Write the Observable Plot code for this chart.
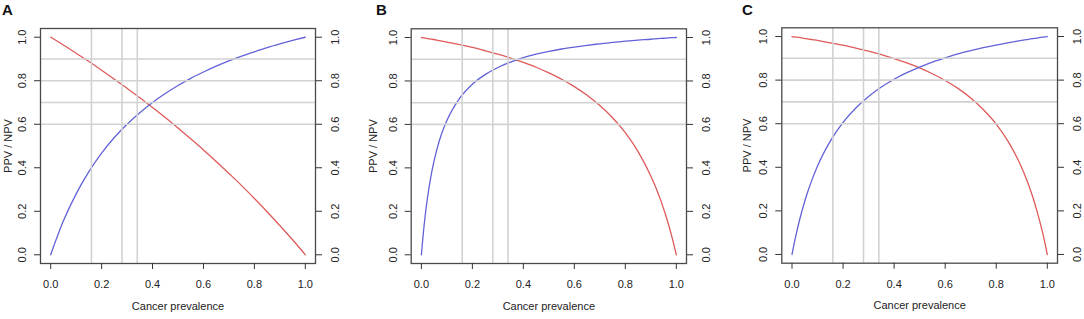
<!DOCTYPE html>
<html>
<head>
<meta charset="utf-8">
<script src="https://cdn.jsdelivr.net/npm/d3@7"></script>
<script src="https://cdn.jsdelivr.net/npm/@observablehq/plot@0.6"></script>
<style>
  html, body { margin: 0; padding: 0; background: #fff; }
  #wrap { position: relative; width: 1084px; height: 319px; overflow: hidden; background: #fff; }
  .panel { position: absolute; top: 0; }
  .letter { position: absolute; top: 1px; font: bold 15px "Liberation Sans", Arial, sans-serif; color: #111; }
</style>
</head>
<body>
<div id="wrap"></div>
<script>
// ---- Data ----
const panelLabels = ["A", "B", "C"];
const yTicks = [0, 0.2, 0.4, 0.6, 0.8, 1.0];
const xTicks = [0, 0.2, 0.4, 0.6, 0.8, 1.0];
const vLines = [0.16, 0.28, 0.34];
const hLines = [0.6, 0.7, 0.8, 0.9];

const prevA = [0, 0.05, 0.1, 0.15, 0.2, 0.25, 0.3, 0.35, 0.4, 0.45, 0.5, 0.55, 0.6, 0.65, 0.7, 0.75, 0.8, 0.85, 0.9, 0.95, 1];
const ppvA = [0, 0.156, 0.280, 0.382, 0.467, 0.539, 0.600, 0.653, 0.700, 0.741, 0.778, 0.811, 0.840, 0.867, 0.891, 0.913, 0.933, 0.952, 0.969, 0.985, 1];
const npvA = [1, 0.964, 0.926, 0.888, 0.848, 0.807, 0.765, 0.722, 0.677, 0.631, 0.583, 0.533, 0.482, 0.429, 0.374, 0.318, 0.259, 0.198, 0.134, 0.069, 0];

const prevBC = [0, 0.01, 0.02, 0.04, 0.06, 0.08, 0.1, 0.15, 0.2, 0.25, 0.3, 0.35, 0.4, 0.45, 0.5, 0.55, 0.6, 0.65, 0.7, 0.75, 0.8, 0.85, 0.9, 0.92, 0.94, 0.96, 0.98, 0.99, 1];
const ppvB = [0, 0.128, 0.229, 0.378, 0.482, 0.559, 0.618, 0.720, 0.785, 0.829, 0.862, 0.887, 0.907, 0.923, 0.936, 0.947, 0.956, 0.964, 0.971, 0.978, 0.983, 0.988, 0.992, 0.994, 0.996, 0.997, 0.999, 0.9993, 1];
const npvB = [1, 0.998, 0.996, 0.992, 0.988, 0.983, 0.979, 0.967, 0.954, 0.939, 0.923, 0.905, 0.885, 0.863, 0.837, 0.808, 0.774, 0.734, 0.687, 0.631, 0.562, 0.475, 0.363, 0.309, 0.247, 0.176, 0.095, 0.049, 0];
const ppvC = [0, 0.059, 0.112, 0.204, 0.282, 0.348, 0.406, 0.520, 0.606, 0.672, 0.725, 0.768, 0.804, 0.834, 0.860, 0.883, 0.902, 0.920, 0.935, 0.949, 0.961, 0.972, 0.982, 0.986, 0.990, 0.993, 0.997, 0.998, 1];
const npvC = [1, 0.998, 0.997, 0.993, 0.989, 0.986, 0.982, 0.971, 0.960, 0.947, 0.933, 0.917, 0.899, 0.879, 0.856, 0.829, 0.798, 0.762, 0.718, 0.664, 0.598, 0.512, 0.398, 0.341, 0.275, 0.198, 0.108, 0.057, 0];

const seriesX = [prevA, prevBC, prevBC];
const seriesPPV = [ppvA, ppvB, ppvC];
const seriesNPV = [npvA, npvB, npvC];

// ---- Layout ----
const layout = [
  { left: 0,   width: 361, ml: 40,   mr: 46, mt: 28,   mb: 56,   yTitle: 32,   letterX: 2 },
  { left: 361, width: 361, ml: 49.7, mr: 36, mt: 28.3, mb: 56,   yTitle: 37.4, letterX: 376 },
  { left: 722, width: 362, ml: 59.3, mr: 27, mt: 27.3, mb: 56.3, yTitle: 34.3, letterX: 742 }
];

const RED = "#de5a5a";
const BLUE = "#6262d8";
const GRID = "#d2d2d2";
const FONT = "'Liberation Sans', Arial, Helvetica, sans-serif";
const fmt = d => d.toFixed(1);

const wrap = document.getElementById("wrap");

layout.forEach((L, i) => {
  const xs = seriesX[i];
  const ppv = xs.map((p, j) => ({ p, v: seriesPPV[i][j] }));
  const npv = xs.map((p, j) => ({ p, v: seriesNPV[i][j] }));

  const chart = Plot.plot({
    width: L.width,
    height: 319,
    marginLeft: L.ml,
    marginRight: L.mr,
    marginTop: L.mt,
    marginBottom: L.mb,
    style: { fontFamily: FONT, fontSize: "11px", color: "#333", background: "transparent", overflow: "visible" },
    x: { domain: [-0.04, 1.04], label: null },
    y: { domain: [-0.04, 1.04], label: null },
    marks: [
      Plot.line(npv, { x: "p", y: "v", stroke: RED, strokeWidth: 1.3, curve: "monotone-x" }),
      Plot.line(ppv, { x: "p", y: "v", stroke: BLUE, strokeWidth: 1.3, curve: "monotone-x" }),
      Plot.ruleX(vLines, { x: d => d, stroke: GRID, strokeWidth: 1.6 }),
      Plot.ruleY(hLines, { y: d => d, stroke: GRID, strokeWidth: 1.6 }),
      Plot.frame({ stroke: "#4a4a4a", strokeWidth: 1.3 }),
      Plot.axisX({ anchor: "bottom", ticks: xTicks, tickSize: 6, tickPadding: 11, tickFormat: fmt, fontSize: 11, fill: "#222", label: null }),
      Plot.axisY({ anchor: "left", ticks: yTicks, tickSize: 6, tickFormat: () => "", label: null }),
      Plot.axisY({ anchor: "right", ticks: yTicks, tickSize: 6, tickFormat: () => "", label: null }),
      Plot.text(yTicks, { y: d => d, text: fmt, frameAnchor: "left", dx: -18, rotate: -90, textAnchor: "middle", fontSize: 11, fill: "#222" }),
      Plot.text(yTicks, { y: d => d, text: fmt, frameAnchor: "right", dx: 20, rotate: -90, textAnchor: "middle", fontSize: 11, fill: "#222" }),
      Plot.text(["PPV / NPV"], { text: d => d, frameAnchor: "left", dx: -L.yTitle, rotate: -90, textAnchor: "middle", fontSize: 11, fill: "#222" }),
      Plot.text(["Cancer prevalence"], { text: d => d, frameAnchor: "bottom", dy: 46, textAnchor: "middle", fontSize: 11, fill: "#222" })
    ]
  });
  const holder = document.createElement("div");
  holder.className = "panel";
  holder.style.left = L.left + "px";
  holder.appendChild(chart);
  wrap.appendChild(holder);

  const letter = document.createElement("div");
  letter.className = "letter";
  letter.style.left = L.letterX + "px";
  letter.textContent = panelLabels[i];
  wrap.appendChild(letter);
});
</script>
</body>
</html>
